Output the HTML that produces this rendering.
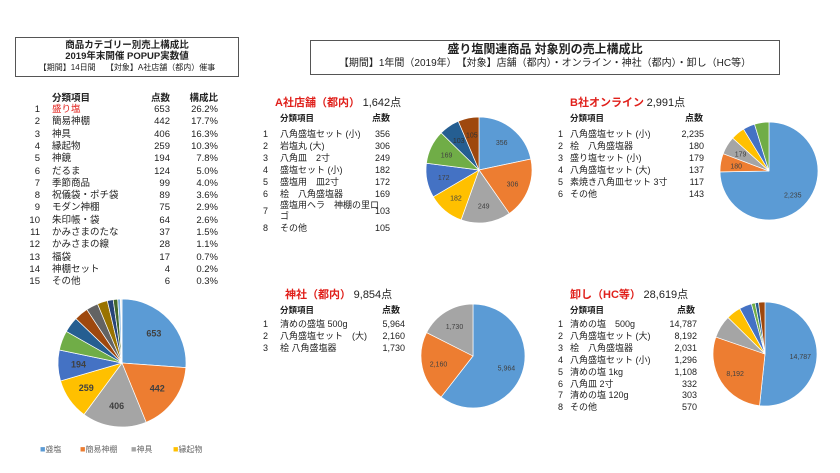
<!DOCTYPE html>
<html><head><meta charset="utf-8">
<style>
body{margin:0;width:840px;height:473px;background:#fff;overflow:hidden;font-family:"Liberation Sans","Noto Sans CJK JP",sans-serif;color:#222;position:relative}
.t{position:absolute;white-space:nowrap;font-size:9.5px;line-height:11px}
.s{font-size:9px}
.b{font-weight:bold}
.r{text-align:right}
.red{color:#e0201b;font-weight:bold;font-size:11px}
.box{position:absolute;border:1px solid #555;box-sizing:border-box}
svg{position:absolute;left:0;top:0}
</style></head><body>
<div class="box" style="left:15px;top:37px;width:224px;height:40px"></div>
<div class="t b" style="left:15px;width:224px;text-align:center;top:40px;font-size:9.5px">商品カテゴリー別売上構成比</div>
<div class="t b" style="left:15px;width:224px;text-align:center;top:51px;font-size:9.5px">2019年末開催 POPUP実数値</div>
<div class="t" style="left:15px;width:224px;text-align:center;top:62px;font-size:8px">【期間】14日間　 【対象】A社店舗（都内）催事</div>

<div class="box" style="left:310px;top:40px;width:470px;height:35px"></div>
<div class="t b" style="left:310px;width:470px;text-align:center;top:43px;font-size:12px;line-height:13px">盛り塩関連商品 対象別の売上構成比</div>
<div class="t" style="left:310px;width:470px;text-align:center;top:58px;font-size:10px">【期間】1年間（2019年）　【対象】店舗（都内）・オンライン・神社（都内）・卸し（HC等）</div>

<div id="tables"></div>
<svg id="pies" width="840" height="473"></svg>

<script>
// Left summary table/pie
const catNames = ["盛り塩","簡易神棚","神具","縁起物","神鏡","だるま","季節商品","祝儀袋・ポチ袋","モダン神棚","朱印帳・袋","かみさまのたな","かみさまの線","福袋","神棚セット","その他"];
const catValues = [653,442,406,259,194,124,99,89,75,64,37,28,17,4,6];
const catShares = ["26.2%","17.7%","16.3%","10.3%","7.8%","5.0%","4.0%","3.6%","2.9%","2.6%","1.5%","1.1%","0.7%","0.2%","0.3%"];
const legendNames = ["盛塩","簡易神棚","神具","縁起物"];
// A社店舗
const aNames = ["八角盛塩セット (小)","岩塩丸 (大)","八角皿　2寸","盛塩セット (小)","盛塩用　皿2寸","桧　八角盛塩器","盛塩用ヘラ　神棚の里ロ|ゴ","その他"];
const aValues = [356,306,249,182,172,169,103,105];
// B社オンライン
const bNames = ["八角盛塩セット (小)","桧　八角盛塩器","盛り塩セット (小)","八角盛塩セット (大)","素焼き八角皿セット 3寸","その他"];
const bValues = [2235,180,179,137,117,143];
// 神社
const sNames = ["清めの盛塩 500g","八角盛塩セット　(大)","桧 八角盛塩器"];
const sValues = [5964,2160,1730];
// 卸し
const hNames = ["清めの塩　500g","八角盛塩セット (大)","桧　八角盛塩器","八角盛塩セット (小)","清めの塩 1kg","八角皿 2寸","清めの塩 120g","その他"];
const hValues = [14787,8192,2031,1296,1108,332,303,570];

const colors=["#5B9BD5","#ED7D31","#A5A5A5","#FFC000","#4472C4","#70AD47","#255E91","#9E480E","#636363","#997300","#264478","#43682B","#7CAFDD","#F1975A","#B7B7B7"];
const tables=document.getElementById('tables');
const svg=document.getElementById('pies');
const NS="http://www.w3.org/2000/svg";
const fmt=v=>v.toLocaleString('en-US');

function txt(x,y,s,cls,extra,name){
  const d=document.createElement('div');
  d.className='t '+(cls||'');
  d.style.left=x+'px';d.style.top=y+'px';
  if(extra)d.style.cssText+=extra;
  d.innerHTML=s;
  
  
  tables.appendChild(d);return d;
}
function rtxt(right,y,s,cls,name){return txt(right-60,y,s,'r '+(cls||''),'width:60px;',name);}

// left table
txt(52,93,'分類項目','b','',"left-header-item");
rtxt(170,93,'点数','b',"left-header-count");
rtxt(218,93,'構成比','b',"left-header-share");
catNames.forEach((n,i)=>{
  const y=104+i*12.3;
  rtxt(40,y,String(i+1),'',"left-row-rank");
  txt(52,y,n,'',i==0?'color:#e0201b;':'',"left-row-name");
  rtxt(170,y,fmt(catValues[i]),'',"left-row-count");
  rtxt(218,y,catShares[i],'',"left-row-share");
});

function section(tx,ty,title,total,names,values,numX,nameX,valR,hdrR,rowY,rowH){
  txt(tx,ty,'<span class="red">'+title+'</span> <span style="font-size:11px">'+total+'点</span>','','',"section-title");
  txt(nameX,ty+15,'分類項目','b','font-size:8.5px;',"section-header-item");
  rtxt(hdrR,ty+15,'点数','b s',"section-header-count");
  let y=rowY;
  names.forEach((n,i)=>{
    const parts=n.split('|');
    if(parts.length>1){
      txt(nameX,y-1,parts[0],'s','',"section-row-name");
      txt(nameX,y+10,parts[1],'s','',"section-row-name");
      rtxt(numX+8,y+5,String(i+1),'s',"section-row-rank");
      rtxt(valR,y+5,fmt(values[i]),'s',"section-row-count");
      y+=rowH*1.8;
    } else {
      rtxt(numX+8,y,String(i+1),'s',"section-row-rank");
      txt(nameX,y,n,'s','',"section-row-name");
      rtxt(valR,y,fmt(values[i]),'s',"section-row-count");
      y+=rowH;
    }
  });
}
section(275,98,'A社店舗（都内）','1,642',aNames,aValues,260,280,390,390,129,12);
section(570,98,'B社オンライン','2,991',bNames,bValues,555,570,704,703,129,12);
section(285,290,'神社（都内）','9,854',sNames,sValues,260,280,405,400,319,12);
section(570,290,'卸し（HC等）','28,619',hNames,hValues,555,570,697,695,319,11.9);

function pie(cx,cy,r,values,labelCount,name,fs,bold){
  const g=document.createElementNS(NS,'g');
  
  
  svg.appendChild(g);
  const tot=values.reduce((a,b)=>a+b,0);
  let a0=0;
  values.forEach((v,i)=>{
    const a1=a0+v/tot*2*Math.PI;
    const p=(a)=>[cx+r*Math.sin(a),cy-r*Math.cos(a)];
    const [x0,y0]=p(a0),[x1,y1]=p(a1);
    const path=document.createElementNS(NS,'path');
    path.setAttribute('d',`M${cx},${cy}L${x0},${y0}A${r},${r} 0 ${a1-a0>Math.PI?1:0} 1 ${x1},${y1}Z`);
    path.setAttribute('fill',colors[i%colors.length]);
    path.setAttribute('stroke','#fff');path.setAttribute('stroke-width','0.7');
    
    
    g.appendChild(path);
    if(i<labelCount){
      const am=(a0+a1)/2;
      const t=document.createElementNS(NS,'text');
      t.setAttribute('x',cx+r*0.68*Math.sin(am));
      t.setAttribute('y',cy-r*0.68*Math.cos(am)+3);
      t.setAttribute('text-anchor','middle');
      t.setAttribute('font-size',fs);
      if(bold)t.setAttribute('font-weight','bold');
      t.setAttribute('fill',(i==6||i==7)?'#333':'#404040');
      t.textContent=fmt(v);
      
      
      g.appendChild(t);
    }
    a0=a1;
  });
}
pie(122,363,64,catValues,5,'category-pie',9,true);
pie(479,170,53,aValues,8,'a-store-pie',7);
pie(769,171,49,bValues,3,'b-online-pie',7);
pie(473,356,52,sValues,3,'shrine-pie',7);
pie(765,354,52,hValues,2,'wholesale-pie',7);

// legend
legendNames.forEach((n,i)=>{
  const x=[40,80,131,173][i];
  txt(x,444,'<span style="color:'+colors[i]+';font-size:9px">■</span><span style="color:#666;font-size:8px">'+n+'</span>','','',"legend-entry");
});
</script>
</body></html>
